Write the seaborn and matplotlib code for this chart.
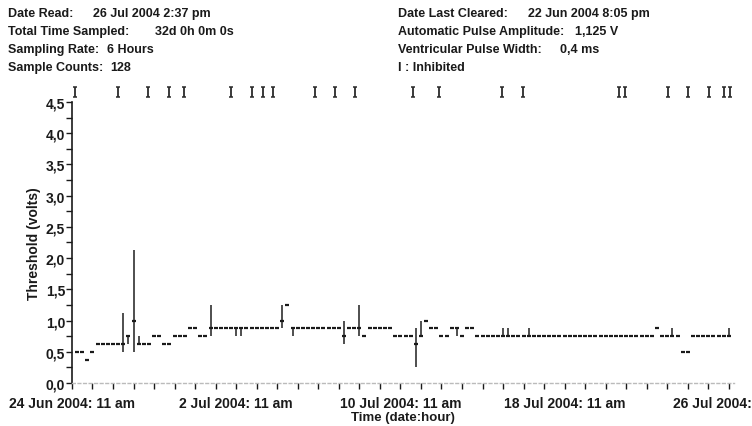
import matplotlib
matplotlib.use("Agg")
import matplotlib.pyplot as plt
import matplotlib.transforms as mtrans
import seaborn as sns
import pandas as pd
from matplotlib.ticker import MultipleLocator, FuncFormatter

# threshold (V) of each 6-hour sample, 128 samples from 24 Jun 2004 11 am
threshold = (
    [0.5, 0.5, 0.375, 0.5]
    + [0.625] * 6 + [0.75, 1.0] + [0.625] * 3
    + [0.75] * 2 + [0.625] * 2 + [0.75] * 3 + [0.875] * 2 + [0.75] * 2
    + [0.875] * 14 + [1.0, 1.25] + [0.875] * 10 + [0.75]
    + [0.875] * 3 + [0.75] + [0.875] * 5 + [0.75] * 4 + [0.625, 0.75, 1.0]
    + [0.875] * 2 + [0.75] * 2 + [0.875] * 2 + [0.75] + [0.875] * 2
    + [0.75] * 35 + [0.875] + [0.75] * 4 + [0.5] * 2 + [0.75] * 8
)
# min / max spread measured within a sample
range_idx = [9, 10, 11, 12, 26, 31, 32, 40, 42, 52, 55, 66, 67, 74, 83, 84, 88, 116, 127]
range_lo = [0.5, 0.625, 0.5, 0.625, 0.75, 0.75, 0.75, 0.875, 0.75, 0.625, 0.75, 0.25, 0.75, 0.75, 0.75, 0.75, 0.75, 0.75, 0.75]
range_hi = [1.125, 0.75, 2.125, 0.75, 1.25, 0.875, 0.875, 1.25, 0.875, 1.0, 1.25, 0.875, 1.0, 0.875, 0.875, 0.875, 0.875, 0.875, 0.875]
# inhibited samples (days after 24 Jun 11 am)
inhibited_days = [0.15, 2.24, 3.71, 4.73, 5.46, 7.76, 8.78, 9.32, 9.8, 11.85, 12.83, 13.8,
                  16.63, 17.9, 20.93, 21.95, 26.63, 26.93, 29.02, 30.0, 31.02, 31.76, 32.05]
tick_labels = ["24 Jun 2004: 11 am", "2 Jul 2004: 11 am", "10 Jul 2004: 11 am",
               "18 Jul 2004: 11 am", "26 Jul 2004:"]

header_left = [("Date Read:", "26 Jul 2004 2:37 pm", 93),
               ("Total Time Sampled:", "32d 0h 0m 0s", 155),
               ("Sampling Rate:", "6 Hours", 107),
               ("Sample Counts:", "128", 110)]
header_right = [("Date Last Cleared:", "22 Jun 2004 8:05 pm", 528),
                ("Automatic Pulse Amplitude:", "1,125 V", 575),
                ("Ventricular Pulse Width:", "0,4 ms", 560),
                ("I : Inhibited", "", 0)]

sample_hours = 6
df = pd.DataFrame({"day": [(i + 1) * sample_hours / 24 for i in range(len(threshold))],
                   "volts": threshold})
rng = pd.DataFrame({"day": [df.day[i] for i in range_idx], "lo": range_lo, "hi": range_hi})

sns.set_style("white")
plt.rcParams["font.family"] = ["Liberation Sans", "DejaVu Sans"]
ink = "#1a1a1a"

fig = plt.figure(figsize=(7.52, 4.27), dpi=100)
ax = fig.add_axes([0.0957, 0.1007, 0.8803, 0.6581])

ax.vlines(rng.day, rng.lo, rng.hi, color="#404040", lw=1.3)
sns.scatterplot(data=df, x="day", y="volts", marker="_", s=5, linewidth=1.6,
                color=ink, ax=ax, zorder=3)
ax.errorbar(inhibited_days, [4.66] * len(inhibited_days), yerr=0.075, fmt="none",
            ecolor="#2a2a2a", elinewidth=1.3, capsize=1.6, capthick=1.1, clip_on=False)

ax.set_xlim(0, 32.25)
ax.set_ylim(0, 4.5)
ax.xaxis.set_minor_locator(MultipleLocator(1))
ax.set_xticks(range(0, 33, 8))
ax.set_xticklabels(tick_labels)
ax.yaxis.set_major_locator(MultipleLocator(0.5))
ax.yaxis.set_minor_locator(MultipleLocator(0.25))
ax.yaxis.set_major_formatter(FuncFormatter(lambda v, p: f"{v:.1f}".replace(".", ",")))
ax.tick_params(axis="both", which="both", direction="out", length=4, width=1.0,
               color=ink, labelsize=10, labelcolor=ink)
ax.tick_params(axis="x", which="both", bottom=True, pad=5)
ax.tick_params(axis="y", which="both", left=True, pad=1)
for lab in ax.get_xticklabels() + ax.get_yticklabels():
    lab.set_fontweight("bold")
last = ax.get_xticklabels()[-1]
last.set_horizontalalignment("left")
last.set_transform(last.get_transform() + mtrans.ScaledTranslation(-56 / 100, 0, fig.dpi_scale_trans))

for s in ["top", "right"]:
    ax.spines[s].set_visible(False)
ax.spines["left"].set_color(ink)
ax.spines["left"].set_linewidth(1.2)
ax.spines["bottom"].set_color("#bbbbbb")
ax.spines["bottom"].set_linestyle((0, (2, 2)))
ax.spines["bottom"].set_linewidth(1.0)

ax.set_xlabel("Time (date:hour)", fontsize=9.5, fontweight="bold", color=ink, labelpad=1)
ax.set_ylabel("Threshold (volts)", fontsize=10, fontweight="bold", color=ink, labelpad=3)

for k in range(4):
    y = 1 - (14 + 18 * k) / 427
    for x0, (lab, val, xv) in ((8, header_left[k]), (398, header_right[k])):
        fig.text(x0 / 752, y, lab, fontsize=9, fontweight="bold", color=ink, va="center")
        if val:
            fig.text(xv / 752, y, val, fontsize=9, fontweight="bold", color=ink, va="center")

fig.savefig("out.png", dpi=100)
